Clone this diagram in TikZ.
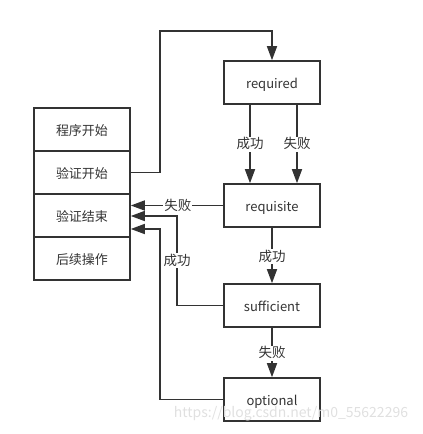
\documentclass[tikz,border=0pt]{standalone}
\usepackage{fontspec}
\setmainfont{Noto Sans CJK SC}
\usetikzlibrary{arrows.meta}
\definecolor{ln}{HTML}{333333}
\begin{document}
\begin{tikzpicture}[x=1pt,y=-1pt,
  box/.style={draw=ln,line width=1.6pt,minimum width=96pt,minimum height=43pt,inner sep=0pt,text height=12pt,text depth=0pt,font=\fontsize{13}{15}\selectfont,text=ln},
  conn/.style={draw=ln,line width=1.6pt,-{Triangle[length=14pt,width=10pt]}},
  lbl/.style={fill=white,inner sep=1pt,text height=11pt,text depth=2pt,font=\fontsize{13.5}{15}\selectfont,text=ln}]
\useasboundingbox (0,0) rectangle (423,434);
% left stack
\node[box] (s1) at (82,129.5) {程序开始};
\node[box] (s2) at (82,172.5) {验证开始};
\node[box] (s3) at (82,215.5) {验证结束};
\node[box] (s4) at (82,258.5) {后续操作};
% right column
\node[box] (req) at (272,82.5) {required};
\node[box] (rqs) at (272,205.5) {requisite};
\node[box] (suf) at (272,305.5) {sufficient};
\node[box] (opt) at (272,399.5) {optional};
% start -> required
\coordinate (c1) at (160,31);
\draw[conn] (s2.east) -- (c1 |- s2.east) -- (c1) -- (req.north |- c1) -- (req.north);
% required -> requisite
\draw[conn] (req.south -| 250,0) -- node[lbl]{成功} (rqs.north -| 250,0);
\draw[conn] (req.south -| 297,0) -- node[lbl]{失败} (rqs.north -| 297,0);
% requisite -> end
\draw[conn] (rqs.west) -- node[lbl,pos=0.49]{失败} (s3.east |- rqs.west);
% sufficient -> end
\coordinate (c2) at (177,216);
\draw[conn] (suf.west) -- (c2 |- suf.west) -- node[lbl,pos=0.5]{成功} (c2) -- (s3.east |- c2);
% optional -> end
\coordinate (c3) at (160,229);
\draw[conn] (opt.west) -- (c3 |- opt.west) -- (c3) -- (s3.east |- c3);
% requisite -> sufficient
\draw[conn] (rqs.south) -- node[lbl,pos=0.52]{成功} (suf.north);
% sufficient -> optional
\draw[conn] (suf.south) -- node[lbl,pos=0.52]{失败} (opt.north);
% watermark
\node[text=black!12,font=\fontsize{14}{15}\selectfont,inner sep=0pt] (wm) at (291,414) {https://blog.csdn.net/m0\_55622296};
\end{tikzpicture}
\end{document}
